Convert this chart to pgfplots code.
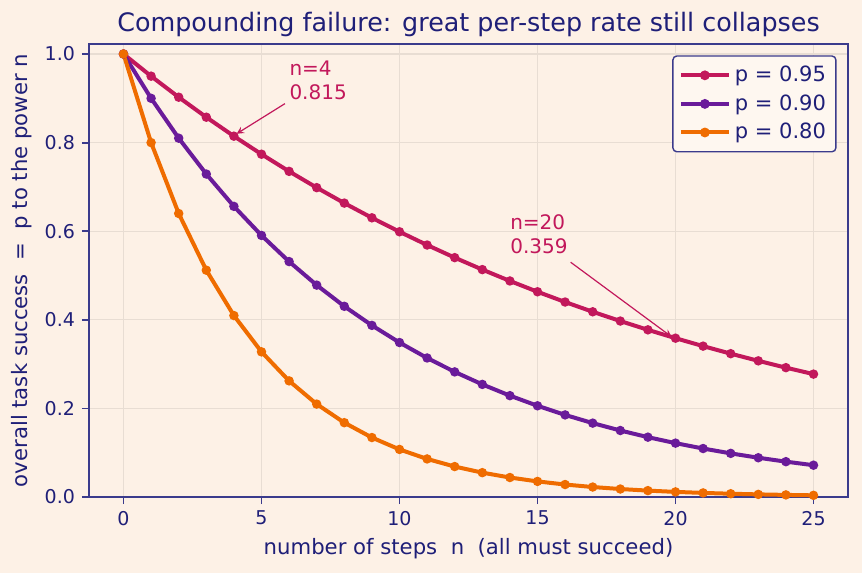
\documentclass[border=0pt]{standalone}
\usepackage{pgfplots}
\pgfplotsset{compat=1.18}
\usepackage{fontspec}
\setmainfont{DejaVu Sans}
\usetikzlibrary{backgrounds,calc}
\definecolor{bg}{HTML}{FDF1E6}
\definecolor{navy}{HTML}{1F1F78}
\definecolor{frame}{HTML}{3B3B8C}
\definecolor{cr}{HTML}{C2185B}
\definecolor{pu}{HTML}{6A1B9A}
\definecolor{or}{HTML}{EF6C00}
\definecolor{gridc}{HTML}{E8DDD3}
\pgfplotstableread{
n p95 p90 p80
0 1.000000 1.000000 1.000000
1 0.950000 0.900000 0.800000
2 0.902500 0.810000 0.640000
3 0.857375 0.729000 0.512000
4 0.814506 0.656100 0.409600
5 0.773781 0.590490 0.327680
6 0.735092 0.531441 0.262144
7 0.698337 0.478297 0.209715
8 0.663420 0.430467 0.167772
9 0.630249 0.387420 0.134218
10 0.598737 0.348678 0.107374
11 0.568800 0.313811 0.085899
12 0.540360 0.282430 0.068719
13 0.513342 0.254187 0.054976
14 0.487675 0.228768 0.043980
15 0.463291 0.205891 0.035184
16 0.440127 0.185302 0.028147
17 0.418120 0.166772 0.022518
18 0.397214 0.150095 0.018014
19 0.377354 0.135085 0.014412
20 0.358486 0.121577 0.011529
21 0.340562 0.109419 0.009223
22 0.323534 0.098477 0.007379
23 0.307357 0.088629 0.005903
24 0.291989 0.079766 0.004722
25 0.277390 0.071790 0.003778
}\datatable
\begin{document}
\begin{tikzpicture}
\begin{axis}[name=ax,
  scale only axis, width=379.5pt, height=226.5pt,
  xmin=-1.25, xmax=26.25, ymin=0, ymax=1.0226,
  xtick={0,5,10,15,20,25}, ytick={0,0.2,0.4,0.6,0.8,1.0},
  yticklabel style={/pgf/number format/.cd, fixed, fixed zerofill, precision=1},
  /pgf/number format/assume math mode=true,
  tick label style={font=\fontsize{9.5}{11}\selectfont, text=navy},
  axis line style={frame, line width=0.9pt},
  tick style={frame, line width=0.9pt},
  tick align=outside, major tick length=3.5pt,
  xtick pos=bottom, ytick pos=left,
  grid=major, major grid style={gridc, line width=0.6pt},
  axis background/.style={fill=bg},
  title={Compounding failure: great per-step rate still collapses},
  title style={font=\fontsize{12.7}{14}\selectfont, text=navy, at={(0.5,1)}, anchor=base, yshift=0pt},
  xlabel={number of steps\ \ n\ \ (all must succeed)},
  ylabel={overall task success\ \ =\ \ p to the power n},
  label style={font=\fontsize{10.6}{12}\selectfont, text=navy},
  xlabel style={at={(0.5,0)}, anchor=center, yshift=-26pt},
  ylabel style={at={(axis description cs:-0.0883,0.5)}, rotate=0, anchor=center},
  legend style={font=\fontsize{10.5}{12}\selectfont, text=navy, fill=bg!60!white, draw=frame, line width=0.7pt, rounded corners=2pt, row sep=1pt, inner sep=3pt, at={(0.985,0.975)}, anchor=north east},
  legend cell align=left,
  legend image code/.code={\draw[#1, line width=2pt] (0pt,0pt) -- (24pt,0pt); \fill[#1] (12pt,0pt) circle (1.4pt);},
]
\addplot[cr, line width=2pt, mark=*, mark size=1.3pt] table[x=n, y=p95] {\datatable};
\addlegendentry{p = 0.95}
\addplot[pu, line width=2pt, mark=*, mark size=1.3pt] table[x=n, y=p90] {\datatable};
\addlegendentry{p = 0.90}
\addplot[or, line width=2pt, mark=*, mark size=1.3pt] table[x=n, y=p80] {\datatable};
\addlegendentry{p = 0.80}
\node[anchor=south west, align=left, text=cr, font=\fontsize{10}{12}\selectfont, inner sep=0pt] at (axis cs:6,0.895) {n=4\\0.815};
\node[anchor=south west, align=left, text=cr, font=\fontsize{10}{12}\selectfont, inner sep=0pt] at (axis cs:14,0.548) {n=20\\0.359};
\draw[cr, line width=0.6pt, ->, >=stealth] (axis cs:5.85,0.888) -- (axis cs:4.1,0.82);
\draw[cr, line width=0.6pt, ->, >=stealth] (axis cs:16.2,0.53) -- (axis cs:19.85,0.362);
\end{axis}
\begin{scope}[on background layer]
\fill[bg] ($(ax.south west)+(-44.5pt,-38pt)$) rectangle ($(ax.north east)+(7pt,22pt)$);
\end{scope}
\pgfresetboundingbox
\useasboundingbox ($(ax.south west)+(-44.5pt,-38pt)$) rectangle ($(ax.north east)+(7pt,22pt)$);
\end{tikzpicture}
\end{document}
